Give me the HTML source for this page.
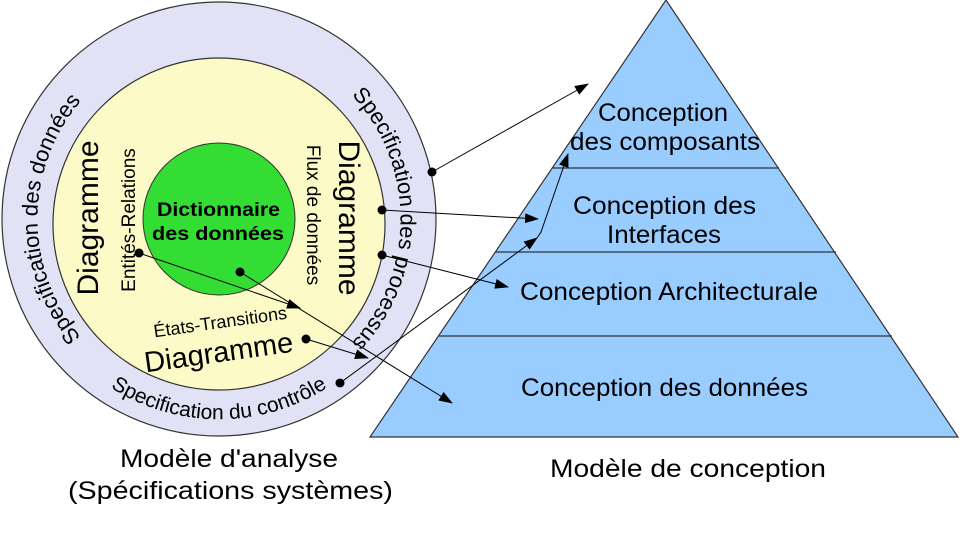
<!DOCTYPE html>
<html><head><meta charset="utf-8"><style>
html,body{margin:0;padding:0;background:#fff;width:960px;height:548px;overflow:hidden}
text{font-family:"Liberation Sans",Arial,sans-serif;fill:#000}
</style></head><body>
<svg width="960" height="548" viewBox="0 0 960 548" xmlns="http://www.w3.org/2000/svg">
<defs>
<marker id="ar" markerWidth="14" markerHeight="10" refX="13" refY="5" orient="auto" markerUnits="userSpaceOnUse">
<path d="M0,0 L14,5 L0,10 Z" fill="#000"/></marker>
<path id="pl" d="M 115,368 A 182 182 0 0 1 115,70"/>
<path id="pr" d="M 323,70 A 182 182 0 0 1 323,368"/>
<path id="pb" d="M 97,378 A 201 201 0 0 0 341,378"/>
</defs>
<circle cx="219" cy="219" r="217" fill="#e2e2f6" stroke="#333" stroke-width="1.2"/>
<circle cx="219" cy="224" r="166" fill="#fcfbc8" stroke="#333" stroke-width="1.2"/>
<circle cx="219" cy="219" r="76" fill="#33dd33" stroke="#333" stroke-width="1"/>
<polygon points="666,0 958,437 370,437" fill="#99ccff" stroke="#333" stroke-width="1.2"/>
<line x1="552" y1="168" x2="779" y2="168" stroke="#333" stroke-width="1.2"/>
<line x1="495" y1="252" x2="836" y2="252" stroke="#333" stroke-width="1.2"/>
<line x1="439" y1="336" x2="892" y2="336" stroke="#333" stroke-width="1.2"/>

<text font-size="22"><textPath href="#pl" startOffset="50%" text-anchor="middle">Specification des données</textPath></text>
<text font-size="22"><textPath href="#pr" startOffset="50%" text-anchor="middle">Specification des processus</textPath></text>
<text font-size="21"><textPath href="#pb" startOffset="50%" text-anchor="middle">Specification du contrôle</textPath></text>

<text font-size="30" text-anchor="middle" transform="translate(98,218) rotate(-90)">Diagramme</text>
<text font-size="19" text-anchor="middle" transform="translate(135,220) rotate(-90)">Entités-Relations</text>
<text font-size="30" text-anchor="middle" transform="translate(339,218) rotate(90)">Diagramme</text>
<text font-size="19" text-anchor="middle" transform="translate(307,215) rotate(90)">Flux de données</text>
<text font-size="18" text-anchor="middle" transform="translate(221,328) rotate(-8)">États-Transitions</text>
<text font-size="29" text-anchor="middle" transform="translate(220,362) rotate(-8)">Diagramme</text>

<g font-weight="bold" font-size="19">
<text x="157" y="216" textLength="123" lengthAdjust="spacingAndGlyphs">Dictionnaire</text>
<text x="152" y="240" textLength="132" lengthAdjust="spacingAndGlyphs">des données</text>
</g>

<g font-size="25">
<text x="598" y="121" textLength="130" lengthAdjust="spacingAndGlyphs">Conception</text>
<text x="570" y="150" textLength="190" lengthAdjust="spacingAndGlyphs">des composants</text>
<text x="573" y="214" textLength="183" lengthAdjust="spacingAndGlyphs">Conception des</text>
<text x="607" y="243" textLength="114" lengthAdjust="spacingAndGlyphs">Interfaces</text>
<text x="520" y="300" textLength="298" lengthAdjust="spacingAndGlyphs">Conception Architecturale</text>
<text x="521" y="396" textLength="287" lengthAdjust="spacingAndGlyphs">Conception des données</text>
<text x="120" y="467" textLength="218" lengthAdjust="spacingAndGlyphs">Modèle d'analyse</text>
<text x="68" y="499" textLength="325" lengthAdjust="spacingAndGlyphs">(Spécifications systèmes)</text>
<text x="550" y="477" textLength="276" lengthAdjust="spacingAndGlyphs">Modèle de conception</text>
</g>

<g stroke="#000" stroke-width="1" fill="none" marker-end="url(#ar)">
<line x1="432" y1="172" x2="588" y2="84"/>
<line x1="382" y1="210" x2="538" y2="219"/>
<line x1="382" y1="255" x2="508" y2="287"/>
<line x1="340" y1="383" x2="537" y2="238"/>
<polyline points="537,238 541,232 568,154"/>
<line x1="306" y1="339" x2="368" y2="358"/>
<line x1="139" y1="253" x2="300" y2="308"/>
<line x1="240" y1="272" x2="452" y2="403"/>
</g>
<g fill="#000">
<circle cx="432" cy="172" r="4.5"/><circle cx="382" cy="210" r="4.5"/><circle cx="382" cy="255" r="4.5"/>
<circle cx="340" cy="383" r="4.5"/><circle cx="306" cy="339" r="4.5"/><circle cx="139" cy="253" r="4.5"/>
<circle cx="240" cy="272" r="4.5"/>
</g>
</svg>
</body></html>
